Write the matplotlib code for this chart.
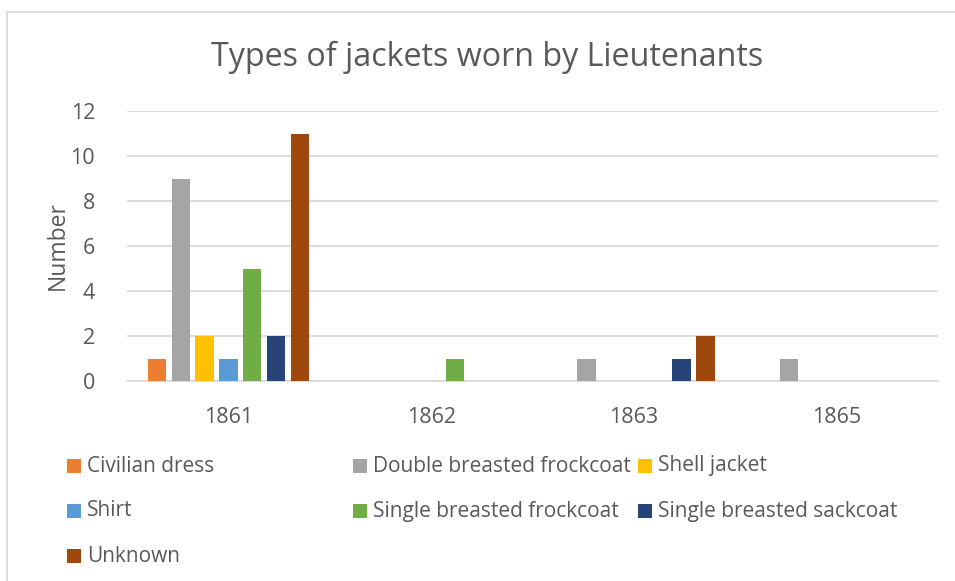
import matplotlib
matplotlib.use("Agg")
import matplotlib.pyplot as plt
import numpy as np
from matplotlib.patches import Rectangle

# Data
years = ["1861", "1862", "1863", "1865"]
series = [
    "Civilian dress",
    "Double breasted frockcoat",
    "Shell jacket",
    "Shirt",
    "Single breasted frockcoat",
    "Single breasted sackcoat",
    "Unknown",
]
civilian_dress = [1, 0, 0, 0]
double_frockcoat = [9, 0, 1, 1]
shell_jacket = [2, 0, 0, 0]
shirt = [1, 0, 0, 0]
single_frockcoat = [5, 1, 0, 0]
single_sackcoat = [2, 0, 1, 0]
unknown = [11, 0, 2, 0]
values = [civilian_dress, double_frockcoat, shell_jacket, shirt,
          single_frockcoat, single_sackcoat, unknown]
colours = ["#ED7D31", "#A5A5A5", "#FFC000", "#5B9BD5",
           "#70AD47", "#264478", "#9E480E"]

TEXT = "#595959"
GRID = "#D9D9D9"
plt.rcParams["font.family"] = ["Open Sans", "DejaVu Sans"]

W, H = 955, 581
fig = plt.figure(figsize=(W / 100, H / 100), dpi=100)
ax = fig.add_axes([127 / W, 1 - 381 / H, (938 - 127) / W, (381 - 111) / H])

# chart border
fig.add_artist(Rectangle((6.5 / W, -0.1), 1.2, 1.1 - 12.5 / H,
                         transform=fig.transFigure, fill=False,
                         edgecolor=GRID, linewidth=1.3))

x = np.arange(len(years))
step, width = 0.1174, 0.0912
for i, (vals, colour) in enumerate(zip(values, colours)):
    offset = (i - 3) * step
    ax.bar(x + offset, vals, width=width, color=colour, zorder=3)

ax.set_xlim(-0.5, len(years) - 0.5)
ax.set_ylim(0, 12)
ax.set_yticks(range(0, 13, 2))
ax.set_xticks(x, years)
ax.grid(True, axis="y", color=GRID, linewidth=1.3, zorder=0)
for side in ["top", "right", "left"]:
    ax.spines[side].set_visible(False)
ax.spines["bottom"].set_color(GRID)
ax.spines["bottom"].set_linewidth(1.3)
ax.tick_params(axis="both", length=0, colors=TEXT, labelsize=15.5)
ax.tick_params(axis="x", pad=19)
ax.tick_params(axis="y", pad=23)

fig.text(58 / W, 1 - 245 / H, "Number", rotation=90, ha="center",
         va="center", fontsize=16.5, color=TEXT)
fig.text(487 / W, 1 - 57 / H, "Types of jackets worn by Lieutenants",
         ha="center", va="center", fontsize=23.2, color=TEXT)

# legend, three equal-width columns like Excel
col_x = [67, 353, 638]
row_y = [466, 511, 556]
for i, (name, colour) in enumerate(zip(series, colours)):
    cx, cy = col_x[i % 3], row_y[i // 3]
    fig.add_artist(Rectangle((cx / W, 1 - (cy + 7) / H), 14 / W, 14 / H,
                             transform=fig.transFigure, facecolor=colour,
                             edgecolor="none"))
    fig.text((cx + 20) / W, 1 - cy / H, name, ha="left", va="center",
             fontsize=15, color=TEXT)

fig.savefig("out.png", dpi=100)
